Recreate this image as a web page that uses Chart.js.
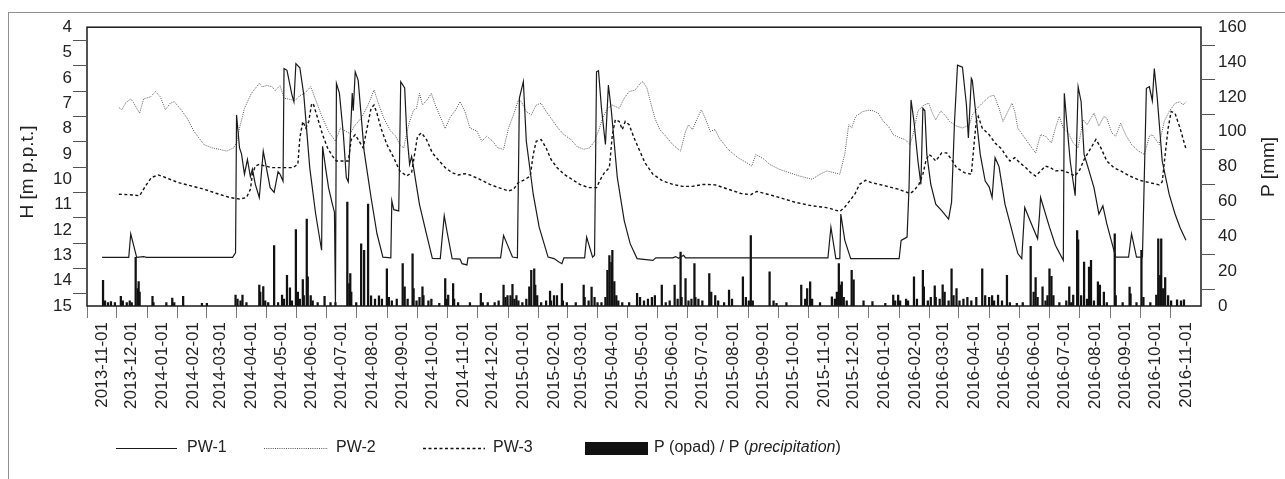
<!DOCTYPE html>
<html>
<head>
<meta charset="utf-8">
<script src="https://cdn.jsdelivr.net/npm/chart.js@4.4.1/dist/chart.umd.min.js"></script>
<style>
  html, body { margin: 0; padding: 0; background: #fff; }
  canvas { display: block; }
</style>
</head>
<body>
<canvas id="chart" width="1285" height="479"></canvas>
<script>
// month tick labels on the x axis
var monthTicks = ['2013-11-01','2013-12-01','2014-01-01','2014-02-01','2014-03-01','2014-04-01','2014-05-01',
  '2014-06-01','2014-07-01','2014-08-01','2014-09-01','2014-10-01','2014-11-01','2014-12-01','2015-01-01',
  '2015-02-01','2015-03-01','2015-04-01','2015-05-01','2015-06-01','2015-07-01','2015-08-01','2015-09-01',
  '2015-10-01','2015-11-01','2015-12-01','2016-01-01','2016-02-01','2016-03-01','2016-04-01','2016-05-01',
  '2016-06-01','2016-07-01','2016-08-01','2016-09-01','2016-10-01','2016-11-01'];

// [day since 2013-11-01, H m p.p.t.]
var pw1 = [[0,13.08],[27,13.08],[29,12.15],[35,13.08],[42,13.05],[45,13.08],[132,13.08],[135,12.9],[136,7.46],
  [139,8.76],[141,9.0],[144,9.8],[147,9.22],[150,9.9],[152,9.6],[155,10.2],[159,10.72],[163,8.89],[167,9.72],
  [170,10.33],[174,10.52],[178,9.7],[180,9.8],[183,10.07],[184,5.63],[187,5.7],[192,6.67],[194,6.94],[196,5.44],
  [200,5.6],[204,6.67],[210,9.54],[216,11.37],[222,12.8],[223,8.7],[226,9.54],[229,10.33],[233,11.0],[235,11.3],
  [236,14.9],[237,6.22],[240,6.6],[244,8.23],[247,9.93],[249,10.1],[253,6.6],[254,7.3],[256,5.76],[259,6.1],
  [265,8.89],[272,10.72],[278,12.15],[284,13.07],[292,13.1],[293,10.85],[295,11.2],[300,11.25],[302,6.15],
  [306,6.4],[308,8.11],[311,9.41],[313,9.1],[314,9.3],[321,11.0],[328,12.15],[334,13.12],[342,13.13],[346,11.44],
  [349,12.1],[354,13.13],[362,13.15],[364,13.33],[369,13.38],[370,13.1],[403,13.1],[406,12.22],[409,12.5],
  [415,13.07],[420,13.1],[422,6.8],[426,6.15],[429,8.5],[436,10.59],[442,11.89],[451,13.07],[457,13.13],
  [462,13.26],[465,13.33],[467,13.1],[488,13.1],[490,12.28],[496,13.07],[498,13.0],[500,5.76],[502,5.72],
  [505,7.2],[509,8.63],[512,6.28],[515,7.3],[521,9.93],[528,11.63],[534,12.54],[541,13.13],[557,13.2],[560,13.1],
  [577,13.1],[580,13.05],[583,13.12],[588,13.0],[590,13.1],[734,13.1],[737,11.89],[742,13.13],[746,13.13],
  [747,11.37],[751,12.4],[757,13.13],[806,13.13],[808,12.41],[814,12.28],[816,10.33],[818,6.87],[821,7.72],
  [825,9.28],[828,10.2],[830,7.2],[832,7.3],[834,9.02],[838,10.2],[843,10.98],[849,11.24],[856,11.57],[859,10.9],
  [862,7.72],[865,5.5],[870,5.58],[874,7.05],[876,8.37],[879,6.02],[880,6.1],[884,7.59],[888,9.02],[893,10.07],
  [897,10.3],[900,10.72],[903,9.15],[907,9.5],[913,10.98],[920,12.02],[926,12.93],[930,13.13],[933,11.11],
  [938,11.6],[946,12.35],[948,11.37],[949,10.72],[958,11.89],[964,12.6],[972,13.2],[973,6.61],[976,7.98],
  [979,9.3],[984,10.65],[987,6.35],[990,6.94],[993,9.02],[996,9.4],[1003,10.33],[1008,11.37],[1012,11.05],
  [1016,11.76],[1025,13.07],[1038,13.07],[1041,12.15],[1046,13.07],[1052,13.07],[1056,6.41],[1059,6.35],
  [1062,6.9],[1064,5.63],[1067,6.8],[1072,9.28],[1079,10.59],[1085,11.37],[1090,11.9],[1096,12.41]];

var pw2 = [[17,7.17],[20,7.26],[24,6.98],[29,6.83],[32,6.98],[35,7.2],[38,7.39],[42,6.83],[49,6.75],[54,6.54],
  [59,6.75],[64,7.26],[69,7.0],[73,6.94],[80,7.26],[86,7.59],[93,8.11],[103,8.63],[111,8.76],[119,8.82],
  [126,8.89],[133,8.76],[136,8.55],[139,7.98],[144,7.2],[151,6.61],[159,6.22],[162,6.35],[167,6.3],[172,6.35],
  [175,6.5],[180,6.3],[184,6.8],[190,6.85],[195,6.9],[200,6.7],[205,6.6],[211,6.35],[216,6.87],[223,7.59],
  [229,8.11],[236,8.5],[241,7.98],[246,8.1],[251,8.2],[256,7.85],[262,7.6],[269,7.07],[275,6.48],[280,7.07],
  [285,7.6],[292,8.11],[297,8.3],[301,8.63],[305,8.76],[310,7.85],[315,7.26],[318,7.2],[321,6.61],[324,7.07],
  [329,6.85],[333,6.61],[337,7.07],[344,7.72],[347,8.0],[352,7.55],[357,7.3],[362,6.94],[367,7.33],[372,7.98],
  [379,8.1],[384,8.5],[389,8.3],[395,8.5],[400,8.76],[406,8.82],[411,7.98],[416,7.46],[421,6.87],[424,6.94],
  [429,7.33],[434,7.46],[439,7.07],[444,7.0],[449,7.33],[454,7.59],[461,7.98],[467,8.24],[474,8.43],[480,8.7],
  [487,8.82],[493,8.76],[498,8.5],[503,7.98],[506,7.6],[511,7.2],[516,7.07],[523,7.2],[528,6.8],[533,6.54],
  [539,6.48],[544,6.22],[547,6.15],[551,6.4],[554,6.87],[559,7.59],[564,8.04],[570,8.3],[577,8.63],[585,8.89],
  [590,8.11],[593,7.85],[597,8.04],[602,7.59],[606,7.26],[610,7.6],[615,8.11],[620,8.04],[624,8.37],[633,8.82],
  [643,9.15],[652,9.35],[657,9.48],[661,9.02],[669,9.2],[675,9.41],[685,9.61],[695,9.74],[705,9.87],[718,10.0],
  [726,9.8],[733,9.67],[739,9.73],[746,9.8],[751,9.02],[755,7.85],[758,7.98],[762,7.52],[769,7.33],[775,7.28],
  [780,7.3],[785,7.4],[790,7.72],[795,7.9],[800,8.24],[807,8.37],[812,8.43],[817,8.63],[820,8.24],[825,7.3],
  [831,7.07],[836,7.0],[839,7.33],[843,7.66],[848,7.3],[853,7.5],[857,7.72],[864,7.9],[870,7.98],[877,7.85],
  [880,7.46],[885,7.2],[890,7.0],[897,6.74],[902,6.68],[907,7.2],[911,7.72],[915,7.4],[920,7.0],[923,7.33],
  [926,7.98],[933,8.37],[939,8.7],[944,8.96],[949,8.24],[954,8.3],[960,8.57],[964,7.98],[968,7.52],[972,7.98],
  [977,8.17],[982,8.57],[987,8.76],[992,7.65],[996,7.85],[1003,7.39],[1008,7.9],[1013,7.52],[1016,7.59],
  [1021,8.17],[1025,8.3],[1030,7.79],[1035,8.24],[1041,8.63],[1048,8.89],[1054,9.02],[1059,8.3],[1062,8.24],
  [1069,8.63],[1074,7.72],[1079,7.33],[1085,7.0],[1090,6.94],[1093,7.07],[1096,6.94]];

var pw3 = [[17,10.59],[28,10.61],[38,10.65],[44,10.26],[50,9.93],[57,9.83],[64,9.93],[77,10.13],[90,10.26],
  [103,10.39],[116,10.56],[129,10.72],[139,10.78],[146,10.72],[150,10.4],[152,9.8],[155,9.48],[159,9.41],
  [165,9.48],[172,9.54],[182,9.54],[193,9.54],[198,9.41],[200,8.37],[203,7.72],[206,7.98],[209,7.72],[212,7.0],
  [214,7.07],[219,7.72],[223,8.24],[228,8.76],[233,9.09],[237,9.28],[244,9.28],[249,9.28],[252,8.43],[256,8.24],
  [260,8.5],[264,8.76],[268,7.98],[272,7.2],[275,7.07],[278,7.4],[282,7.98],[288,8.63],[295,9.15],[301,9.67],
  [308,9.87],[313,9.74],[316,9.02],[319,8.3],[323,8.17],[328,8.43],[334,8.96],[341,9.28],[347,9.54],[354,9.74],
  [360,9.83],[367,9.78],[372,9.83],[382,10.0],[392,10.2],[401,10.33],[411,10.46],[416,10.4],[421,10.13],
  [428,10.0],[433,9.87],[436,9.02],[439,8.5],[444,8.43],[449,8.76],[454,9.22],[460,9.54],[467,9.8],[475,10.0],
  [483,10.2],[492,10.33],[500,10.33],[504,10.0],[508,9.74],[513,9.54],[516,8.24],[519,7.65],[523,7.72],
  [526,8.04],[529,7.72],[533,7.85],[538,8.37],[543,8.82],[549,9.35],[557,9.8],[567,10.07],[577,10.2],
  [587,10.28],[597,10.28],[608,10.2],[620,10.22],[633,10.39],[646,10.56],[656,10.61],[662,10.48],[672,10.58],
  [685,10.72],[701,10.91],[718,11.05],[731,11.11],[736,11.15],[746,11.27],[751,11.1],[756,10.85],[761,10.6],
  [766,10.2],[772,10.04],[778,10.13],[792,10.26],[805,10.39],[817,10.56],[821,10.45],[826,10.2],[830,9.8],
  [833,9.28],[836,9.02],[839,9.1],[843,9.28],[849,8.96],[854,8.96],[859,9.22],[864,9.54],[872,9.74],[879,9.8],
  [882,8.5],[884,7.72],[886,7.52],[890,7.98],[897,8.24],[903,8.57],[910,8.82],[913,9.02],[918,9.28],[923,9.15],
  [928,9.35],[934,9.54],[939,9.74],[944,9.87],[949,9.67],[954,9.48],[959,9.54],[964,9.67],[971,9.65],[977,9.74],
  [984,9.87],[989,9.6],[993,9.22],[1000,8.76],[1005,8.43],[1010,8.76],[1016,9.28],[1023,9.54],[1030,9.67],
  [1039,9.87],[1049,10.04],[1059,10.13],[1069,10.22],[1072,10.1],[1075,9.02],[1078,7.98],[1081,7.33],
  [1085,7.4],[1090,7.98],[1096,8.8]];

// [day since 2013-11-01, P mm]
var rain = [[1,14.8],[3,3],[6,2],[9,2.5],[13,2],[19,5.5],[21,3],[25,2],[28,3],[30,2],[34,28],[36,10],[37,14],
  [38,8],[51,5.5],[52,2],[65,2],[71,4.6],[73,2],[82,5.5],[101,1.5],[106,1.5],[135,6.3],[137,4],[140,3],[142,6.3],
  [146,2],[159,12],[160,8],[163,11.2],[165,3],[168,2],[174,34.7],[178,2],[182,6.3],[184,4],[187,17.6],[190,10.4],
  [192,3],[196,43.8],[198,8],[200,4],[203,15.2],[204,6],[207,49.9],[208,16.7],[211,6],[213,3],[218,2],[225,5.5],
  [231,2],[236,2],[248,59.6],[250,12.9],[251,18.6],[252,8],[257,2],[262,35.7],[265,31.9],[269,58.5],[272,5.9],
  [276,4],[280,5.9],[283,4],[288,21.4],[290,5],[293,3],[298,4],[304,24.3],[306,11],[309,4],[314,30],[315,10],
  [318,3],[321,5],[324,11],[325,6],[330,3],[333,4],[341,1.5],[347,15.8],[348,4],[350,6.3],[355,12.9],[356,4],
  [360,2],[372,2],[383,7.2],[385,2],[390,2],[397,2],[401,3],[406,12],[408,5],[410,6],[413,6],[415,12.5],[417,4],
  [419,6],[421,3],[425,2],[429,4],[432,11],[434,20.5],[437,21.4],[438,12],[440,6],[444,2],[449,3],[453,8.5],
  [454,3],[457,6],[460,6],[465,12.9],[466,3],[470,2],[479,2],[487,12],[488,5],[492,3],[495,10.9],[498,5],[501,2],
  [505,2],[509,5],[511,20.5],[513,29],[515,25],[516,31.9],[518,14],[520,6],[522,3],[526,2],[533,2],[541,7.3],
  [544,5],[548,3],[552,4],[556,5],[559,6],[566,12],[570,2],[574,3],[579,12],[582,4],[585,30.9],[586,5],[590,15.8],
  [593,3],[596,4],[599,24.3],[600,5],[603,4],[607,3],[614,18.6],[616,8],[620,6],[623,3],[629,2],[634,9.2],[637,4],
  [648,16.7],[651,5],[654,3],[656,40.4],[658,3],[675,19.6],[679,3],[682,1.5],[692,2],[707,12],[711,4],[713,10],
  [716,13.9],[718,4],[726,2],[738,5.3],[741,4],[743,8],[745,24.3],[747,12],[748,13.8],[750,5],[753,3],[758,20.5],
  [760,15],[770,3],[779,2.5],[792,1.5],[800,6.3],[802,3],[805,6.3],[807,3],[813,4],[815,3],[821,16.7],[824,4],
  [830,20.5],[831,11],[835,3],[838,5],[842,11.6],[843,5],[847,4],[850,12.1],[852,8],[856,3],[859,21.4],[861,6],
  [864,10],[867,3],[871,4],[875,5],[879,3],[884,5],[890,21.4],[893,6],[897,5],[900,6],[902,3],[906,6.3],[910,3],
  [915,17.6],[918,2],[925,1.5],[931,2],[939,34.2],[942,8],[944,16.3],[946,5],[951,11],[954,3],[956,6],[958,21.4],
  [960,17],[962,6],[968,2],[975,3],[978,11],[980,2],[982,6.3],[986,43.3],[987,38],[990,6],[993,25.2],[996,4],
  [998,22.4],[1000,26.2],[1003,3],[1007,13.9],[1009,12],[1013,8],[1016,2],[1024,41.4],[1025,6],[1032,2],
  [1039,10.8],[1040,7],[1046,2],[1051,31.9],[1053,5],[1060,2],[1066,6.3],[1068,38.5],[1070,17.6],[1071,38.5],
  [1073,10],[1075,16.3],[1078,6],[1081,3],[1087,3.5],[1091,3],[1094,3.5]];

var FONT = "'Liberation Sans', Arial, sans-serif";
var INK = '#222';

var day0 = Date.UTC(2013, 10, 1);
var tickDays = monthTicks.map(function (s) {
  var p = s.split('-');
  return Math.round((Date.UTC(+p[0], +p[1] - 1, +p[2]) - day0) / 86400000);
});

function pts(series) {
  return series.map(function (p) { return { x: p[0], y: p[1] }; });
}

// frame, minor ticks, axis titles and the legend
var decor = {
  id: 'decor',
  beforeDraw: function (chart) {
    var ctx = chart.ctx;
    ctx.save();
    ctx.strokeStyle = '#8f8f8f';
    ctx.lineWidth = 1;
    ctx.strokeRect(8.5, 12.5, 1400, 600);
    ctx.restore();
  },
  afterDraw: function (chart) {
    var ctx = chart.ctx, a = chart.chartArea, sy = chart.scales.y, sp = chart.scales.y1;
    ctx.save();
    ctx.strokeStyle = '#1a1a1a';
    ctx.lineWidth = 1.5;
    ctx.strokeRect(a.left, a.top, a.right - a.left, a.bottom - a.top);

    ctx.lineWidth = 1;
    ctx.strokeStyle = '#555';
    ctx.beginPath();
    for (var v = 4.5; v < 15; v += 1) {
      var y = Math.round(sy.getPixelForValue(v)) + 0.5;
      ctx.moveTo(a.left - 14, y); ctx.lineTo(a.left, y);
    }
    for (var w = 10; w < 160; w += 20) {
      var y2 = Math.round(sp.getPixelForValue(w)) + 0.5;
      ctx.moveTo(a.right, y2); ctx.lineTo(a.right + 14, y2);
    }
    ctx.stroke();

    ctx.fillStyle = INK;
    ctx.font = '19px ' + FONT;
    ctx.textAlign = 'center';
    ctx.textBaseline = 'middle';
    ctx.save();
    ctx.translate(28, 172);
    ctx.rotate(-Math.PI / 2);
    ctx.fillText('H [m p.p.t.]', 0, 0);
    ctx.restore();
    ctx.save();
    ctx.translate(1269, 167);
    ctx.rotate(-Math.PI / 2);
    ctx.fillText('P [mm]', 0, 0);
    ctx.restore();

    // legend
    var ly = 448;
    var items = [[116, 177, 187], [264, 328, 336], [423, 485, 493]];
    ctx.textAlign = 'left';
    ctx.font = '16px ' + FONT;
    items.forEach(function (it, i) {
      var ds = chart.data.datasets[i];
      ctx.save();
      ctx.strokeStyle = ds.borderColor;
      ctx.lineWidth = ds.borderWidth;
      ctx.setLineDash(ds.borderDash || []);
      ctx.beginPath();
      ctx.moveTo(it[0], ly + 0.5); ctx.lineTo(it[1], ly + 0.5);
      ctx.stroke();
      ctx.restore();
      ctx.fillText(ds.label, it[2], ly);
    });
    var bars = chart.data.datasets[3];
    ctx.fillStyle = bars.backgroundColor;
    ctx.fillRect(585, 442, 63, 13);
    ctx.fillStyle = INK;
    var tx = 654;
    var parts = [['P (opad) / P (', ''], ['precipitation', 'italic '], [')', '']];
    parts.forEach(function (p) {
      ctx.font = p[1] + '16px ' + FONT;
      ctx.fillText(p[0], tx, ly);
      tx += ctx.measureText(p[0]).width;
    });
    ctx.restore();
  }
};

Chart.defaults.font.family = FONT;
Chart.defaults.color = INK;

new Chart(document.getElementById('chart'), {
  type: 'line',
  data: {
    datasets: [{
      label: 'PW-1',
      data: pts(pw1),
      yAxisID: 'y',
      borderColor: '#1a1a1a',
      borderWidth: 1.2,
      pointRadius: 0,
      order: 1
    }, {
      label: 'PW-2',
      data: pts(pw2),
      yAxisID: 'y',
      borderColor: '#555',
      borderWidth: 1,
      borderDash: [1, 1.2],
      pointRadius: 0,
      order: 2
    }, {
      label: 'PW-3',
      data: pts(pw3),
      yAxisID: 'y',
      borderColor: '#111',
      borderWidth: 1.4,
      borderDash: [3, 2.5],
      pointRadius: 0,
      order: 3
    }, {
      type: 'bar',
      label: 'P (opad) / P (precipitation)',
      data: pts(rain),
      yAxisID: 'y1',
      backgroundColor: '#111',
      borderWidth: 0,
      barThickness: 1.6,
      grouped: false,
      order: 10
    }]
  },
  options: {
    responsive: false,
    animation: false,
    devicePixelRatio: 1,
    events: [],
    layout: { padding: { top: 25, left: 0, right: 0, bottom: 0 } },
    plugins: {
      legend: { display: false },
      tooltip: { enabled: false }
    },
    scales: {
      x: {
        type: 'linear',
        min: 0,
        max: 1096,
        afterBuildTicks: function (s) {
          s.ticks = tickDays.map(function (d) { return { value: d }; });
        },
        afterFit: function (s) { s.height = 173; },
        ticks: {
          autoSkip: false,
          minRotation: 90,
          maxRotation: 90,
          padding: 4,
          font: { size: 17 },
          callback: function (v, i) { return monthTicks[i]; }
        },
        grid: { drawOnChartArea: false, drawTicks: true, tickLength: 12, color: '#777' },
        border: { display: false }
      },
      y: {
        position: 'left',
        reverse: true,
        min: 4,
        max: 15,
        afterFit: function (s) { s.width = 87; },
        ticks: { stepSize: 1, autoSkip: false, padding: 15, font: { size: 17 } },
        grid: { display: false, drawTicks: false },
        border: { display: false }
      },
      y1: {
        position: 'right',
        min: 0,
        max: 160,
        afterFit: function (s) { s.width = 84; },
        ticks: { stepSize: 20, autoSkip: false, padding: 17, font: { size: 17 } },
        grid: { display: false, drawTicks: false },
        border: { display: false }
      }
    }
  },
  plugins: [decor]
});
</script>
</body>
</html>
